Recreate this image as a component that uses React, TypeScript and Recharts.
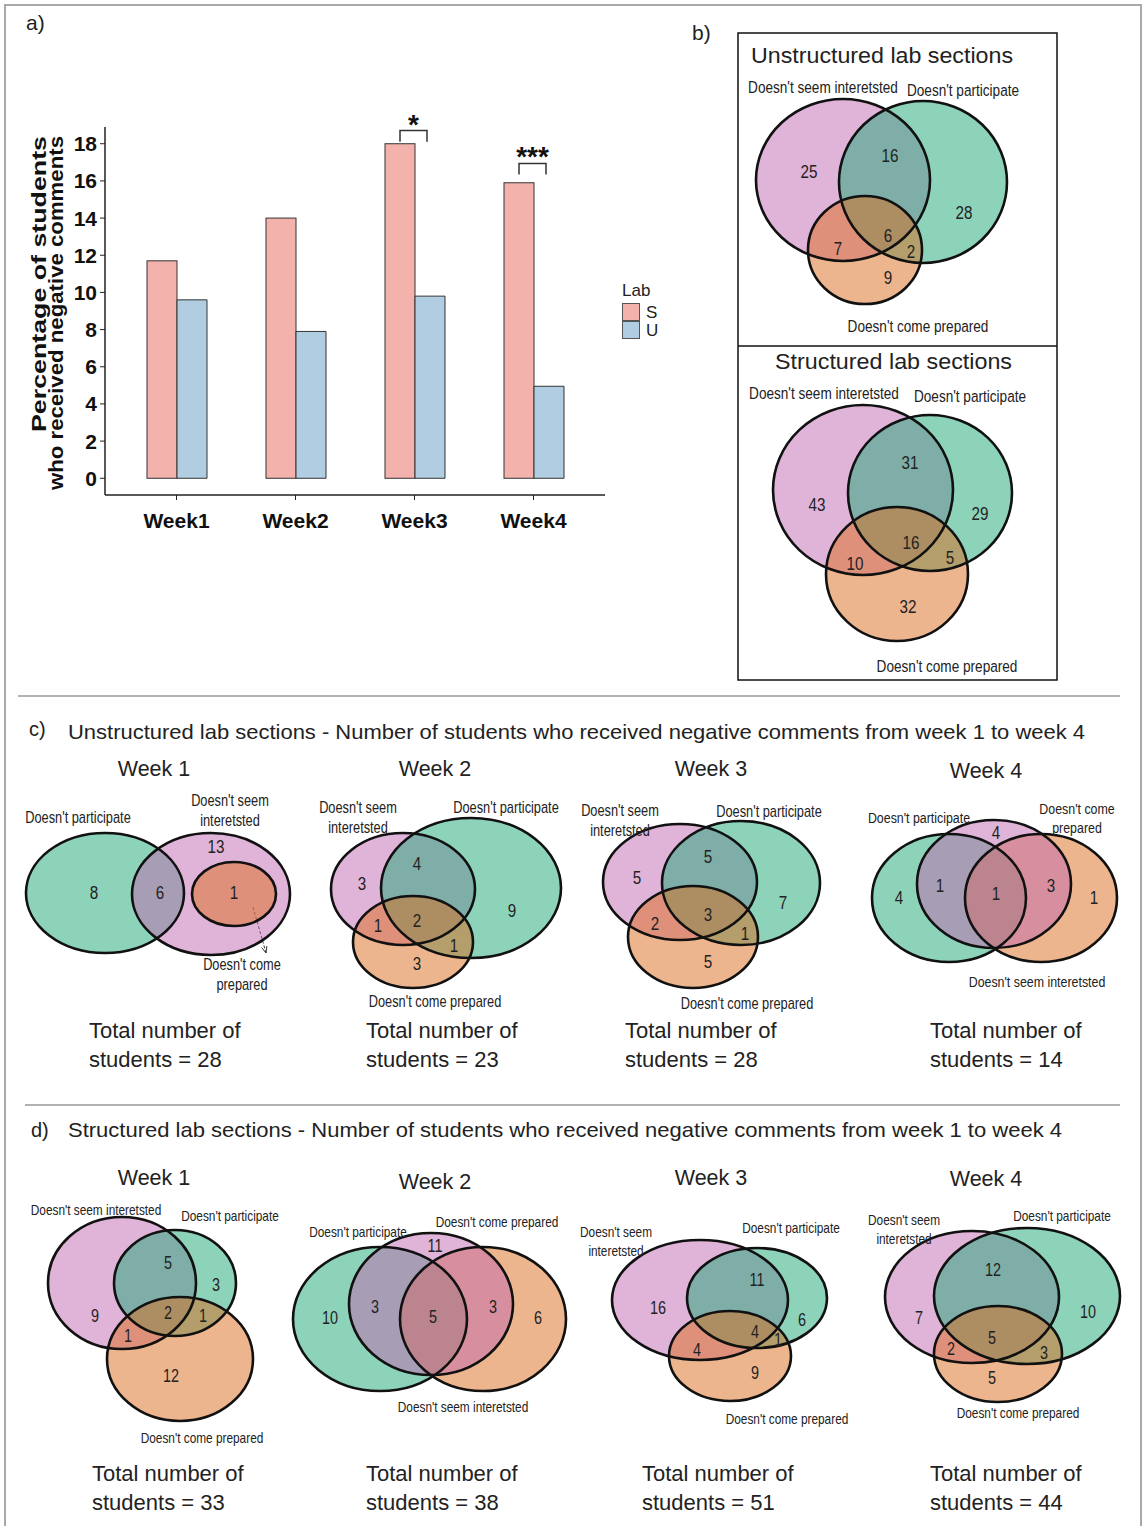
import React from "react";
import {
  BarChart,
  Bar,
  XAxis,
  YAxis,
  ScatterChart,
  Scatter,
  ReferenceLine,
} from "recharts";

const SANS = "'Liberation Sans', Arial, sans-serif";
const NARROW_X = 0.8; // Arial Narrow look: Liberation Sans squeezed sideways

// ---- panel a data ----
const weeks = ["Week1", "Week2", "Week3", "Week4"];
const structuredPct = [11.7, 14.0, 18.0, 15.9];
const unstructuredPct = [9.6, 7.9, 9.8, 4.95];
const sigMarks = ["", "", "*", "***"];
const sigTop = [0, 0, 18.71, 16.94];
const sigLeg = [0, 0, 18.1, 16.35];
const yTicks = [0, 2, 4, 6, 8, 10, 12, 14, 16, 18];
const labKeys = ["S", "U"];

const S_COLOR = "#F4B2AC";
const U_COLOR = "#B1CDE1";

// ---- venn counts ----
const unstructuredAll = [25, 16, 28, 7, 6, 2, 9];
const structuredAll = [43, 31, 29, 16, 10, 5, 32];
const uWeek1 = [8, 6, 13, 1];
const uWeek2 = [3, 4, 9, 1, 2, 1, 3];
const uWeek3 = [5, 5, 7, 2, 3, 1, 5];
const uWeek4 = [4, 1, 4, 1, 3, 1];
const sWeek1 = [9, 5, 3, 2, 1, 1, 12];
const sWeek2 = [10, 3, 11, 5, 3, 6];
const sWeek3 = [16, 11, 6, 4, 1, 4, 9];
const sWeek4 = [7, 12, 10, 5, 2, 3, 5];

const weekNames = ["Week 1", "Week 2", "Week 3", "Week 4"];
const unstructuredTotals = [28, 23, 28, 14];
const structuredTotals = [33, 38, 51, 44];

const PINK = "#C169B1";
const GREEN = "#1BA775";
const ORANGE = "#DB6B1D";

const INT = "Doesn't seem interetsted";
const PART = "Doesn't participate";
const PREP = "Doesn't come prepared";

type Ell = { x: number; y: number; rx: number; ry: number; c: string };
type Txt = { x: number; y: number; t: string[] };
interface VennDef {
  box: [number, number, number, number];
  sets: Ell[];
  counts: number[];
  countAt: [number, number][];
  labels: Txt[];
  labelSize: number;
  countSize: number;
  arrow?: [number, number, number, number];
}

const venns: VennDef[] = [
  {
    box: [740, 66, 315, 275],
    sets: [
      { x: 843, y: 180, rx: 87, ry: 81, c: PINK },
      { x: 923, y: 182, rx: 84, ry: 81, c: GREEN },
      { x: 865, y: 250, rx: 57, ry: 54, c: ORANGE },
    ],
    counts: unstructuredAll,
    countAt: [[809, 171], [890, 155], [964, 212], [838, 248], [888, 235], [911, 251], [888, 277]],
    labels: [
      { x: 823, y: 87, t: [INT] },
      { x: 963, y: 90, t: [PART] },
      { x: 918, y: 326, t: [PREP] },
    ],
    labelSize: 17,
    countSize: 19,
  },
  {
    box: [740, 378, 315, 300],
    sets: [
      { x: 863, y: 490, rx: 90, ry: 85, c: PINK },
      { x: 930, y: 493, rx: 82, ry: 78, c: GREEN },
      { x: 897, y: 574, rx: 71, ry: 67, c: ORANGE },
    ],
    counts: structuredAll,
    countAt: [[817, 504], [910, 462], [980, 513], [911, 542], [855, 563], [950, 557], [908, 606]],
    labels: [
      { x: 824, y: 393, t: [INT] },
      { x: 970, y: 396, t: [PART] },
      { x: 947, y: 666, t: [PREP] },
    ],
    labelSize: 17,
    countSize: 19,
  },
  {
    box: [15, 790, 285, 205],
    sets: [
      { x: 105, y: 893, rx: 79, ry: 60, c: GREEN },
      { x: 211, y: 894, rx: 79, ry: 61, c: PINK },
      { x: 234, y: 894, rx: 42, ry: 32, c: ORANGE },
    ],
    counts: uWeek1,
    countAt: [[94, 892], [160, 892], [216, 846], [234, 892]],
    labels: [
      { x: 78, y: 817, t: [PART] },
      { x: 230, y: 800, t: ["Doesn't seem", "interetsted"] },
      { x: 242, y: 964, t: ["Doesn't come", "prepared"] },
    ],
    labelSize: 16,
    countSize: 19,
    arrow: [253, 907, 266, 953],
  },
  {
    box: [300, 788, 270, 225],
    sets: [
      { x: 403, y: 889, rx: 72, ry: 56, c: PINK },
      { x: 471, y: 888, rx: 90, ry: 70, c: GREEN },
      { x: 413, y: 942, rx: 60, ry: 46, c: ORANGE },
    ],
    counts: uWeek2,
    countAt: [[362, 883], [417, 863], [512, 910], [378, 925], [417, 920], [454, 945], [417, 963]],
    labels: [
      { x: 358, y: 807, t: ["Doesn't seem", "interetsted"] },
      { x: 506, y: 807, t: [PART] },
      { x: 435, y: 1001, t: [PREP] },
    ],
    labelSize: 16,
    countSize: 19,
  },
  {
    box: [575, 795, 265, 220],
    sets: [
      { x: 680, y: 882, rx: 77, ry: 58, c: PINK },
      { x: 741, y: 883, rx: 79, ry: 62, c: GREEN },
      { x: 693, y: 937, rx: 65, ry: 51, c: ORANGE },
    ],
    counts: uWeek3,
    countAt: [[637, 877], [708, 856], [783, 902], [655, 923], [708, 914], [745, 933], [708, 961]],
    labels: [
      { x: 620, y: 810, t: ["Doesn't seem", "interetsted"] },
      { x: 769, y: 811, t: [PART] },
      { x: 747, y: 1003, t: [PREP] },
    ],
    labelSize: 16,
    countSize: 19,
  },
  {
    box: [855, 795, 285, 200],
    sets: [
      { x: 949, y: 898, rx: 77, ry: 64, c: GREEN },
      { x: 1041, y: 898, rx: 76, ry: 64, c: ORANGE },
      { x: 994, y: 884, rx: 77, ry: 64, c: PINK },
    ],
    counts: uWeek4,
    countAt: [[899, 897], [940, 885], [996, 832], [996, 893], [1051, 885], [1094, 897]],
    labels: [
      { x: 919, y: 817, t: [PART] },
      { x: 1077, y: 808, t: ["Doesn't come", "prepared"] },
      { x: 1037, y: 981, t: [INT] },
    ],
    labelSize: 15.5,
    countSize: 19,
  },
  {
    box: [15, 1195, 285, 255],
    sets: [
      { x: 122, y: 1283, rx: 74, ry: 66, c: PINK },
      { x: 175, y: 1283, rx: 61, ry: 53, c: GREEN },
      { x: 180, y: 1359, rx: 73, ry: 62, c: ORANGE },
    ],
    counts: sWeek1,
    countAt: [[95, 1316], [168, 1263], [216, 1285], [168, 1313], [203, 1316], [128, 1336], [171, 1376]],
    labels: [
      { x: 96, y: 1210, t: [INT] },
      { x: 230, y: 1216, t: [PART] },
      { x: 202, y: 1438, t: [PREP] },
    ],
    labelSize: 14.8,
    countSize: 18,
  },
  {
    box: [285, 1205, 290, 215],
    sets: [
      { x: 380, y: 1319, rx: 87, ry: 72, c: GREEN },
      { x: 483, y: 1319, rx: 83, ry: 72, c: ORANGE },
      { x: 431, y: 1304, rx: 82, ry: 71, c: PINK },
    ],
    counts: sWeek2,
    countAt: [[330, 1318], [375, 1307], [435, 1246], [433, 1317], [493, 1307], [538, 1318]],
    labels: [
      { x: 358, y: 1232, t: [PART] },
      { x: 497, y: 1222, t: [PREP] },
      { x: 463, y: 1407, t: [INT] },
    ],
    labelSize: 14.8,
    countSize: 18,
  },
  {
    box: [570, 1215, 300, 215],
    sets: [
      { x: 700, y: 1300, rx: 88, ry: 60, c: PINK },
      { x: 757, y: 1298, rx: 70, ry: 50, c: GREEN },
      { x: 730, y: 1356, rx: 61, ry: 45, c: ORANGE },
    ],
    counts: sWeek3,
    countAt: [[658, 1308], [757, 1280], [802, 1320], [755, 1332], [778, 1340], [697, 1350], [755, 1373]],
    labels: [
      { x: 616, y: 1232, t: ["Doesn't seem", "interetsted"] },
      { x: 791, y: 1228, t: [PART] },
      { x: 787, y: 1419, t: [PREP] },
    ],
    labelSize: 14.8,
    countSize: 18,
  },
  {
    box: [855, 1205, 285, 220],
    sets: [
      { x: 972, y: 1297, rx: 87, ry: 66, c: PINK },
      { x: 1027, y: 1296, rx: 93, ry: 68, c: GREEN },
      { x: 998, y: 1354, rx: 64, ry: 48, c: ORANGE },
    ],
    counts: sWeek4,
    countAt: [[919, 1318], [993, 1270], [1088, 1312], [992, 1338], [951, 1349], [1044, 1353], [992, 1378]],
    labels: [
      { x: 904, y: 1220, t: ["Doesn't seem", "interetsted"] },
      { x: 1062, y: 1216, t: [PART] },
      { x: 1018, y: 1413, t: [PREP] },
    ],
    labelSize: 14.8,
    countSize: 18,
  },
];

const weekTitleAt = [
  [154, 768], [435, 768], [711, 768], [986, 770],
  [154, 1177], [435, 1181], [711, 1177], [986, 1178],
];
const totalAt = [
  [89, 1030], [366, 1030], [625, 1030], [930, 1030],
  [92, 1473], [366, 1473], [642, 1473], [930, 1473],
];

function Venn({ def }: { def: VennDef }) {
  const [left, top, w, h] = def.box;
  const countData = def.counts.map((n, i) => ({ x: def.countAt[i][0], y: def.countAt[i][1], n }));
  const labelData = def.labels.map((l) => ({ x: l.x, y: l.y, t: l.t }));
  const arrowShape = (p: any) => {
    const { x1, y1, x2, y2 } = p;
    const a = Math.atan2(y2 - y1, x2 - x1);
    const s = 7;
    const pA = [x2 - s * Math.cos(a - 0.4), y2 - s * Math.sin(a - 0.4)];
    const pB = [x2 - s * Math.cos(a + 0.4), y2 - s * Math.sin(a + 0.4)];
    return (
      <g>
        <line x1={x1} y1={y1} x2={x2} y2={y2} stroke="#333" strokeWidth={1} strokeDasharray="3 2" />
        <path d={`M${pA[0]},${pA[1]} L${x2},${y2} L${pB[0]},${pB[1]}`} fill="none" stroke="#333" strokeWidth={1} />
      </g>
    );
  };
  return (
    <div style={{ position: "absolute", left, top, width: w, height: h }}>
      <ScatterChart width={w} height={h} margin={{ top: 0, right: 0, bottom: 0, left: 0 }}>
        <XAxis type="number" dataKey="x" domain={[left, left + w]} hide />
        <YAxis type="number" dataKey="y" domain={[top, top + h]} reversed hide />
        <Scatter
          data={def.sets}
          isAnimationActive={false}
          shape={(p: any) => (
            <ellipse cx={p.cx} cy={p.cy} rx={p.payload.rx} ry={p.payload.ry} fill={p.payload.c} fillOpacity={0.5} />
          )}
        />
        <Scatter
          data={def.sets}
          isAnimationActive={false}
          shape={(p: any) => (
            <ellipse cx={p.cx} cy={p.cy} rx={p.payload.rx} ry={p.payload.ry} fill="none" stroke="#111" strokeWidth={2.6} />
          )}
        />
        <Scatter
          data={countData}
          isAnimationActive={false}
          shape={(p: any) => (
            <text
              transform={`translate(${p.cx} ${p.cy}) scale(${NARROW_X} 1)`}
              dy="0.36em"
              textAnchor="middle"
              fontFamily={SANS}
              fontSize={def.countSize}
              fill="#222"
            >
              {p.payload.n}
            </text>
          )}
        />
        <Scatter
          data={labelData}
          isAnimationActive={false}
          shape={(p: any) => (
            <text
              transform={`translate(${p.cx} ${p.cy}) scale(${NARROW_X} 1)`}
              textAnchor="middle"
              fontFamily={SANS}
              fontSize={def.labelSize}
              fill="#222"
            >
              {p.payload.t.map((line: string, i: number) => (
                <tspan key={i} x={0} dy={i === 0 ? "0.36em" : "1.25em"}>
                  {line}
                </tspan>
              ))}
            </text>
          )}
        />
        {def.arrow && (
          <ReferenceLine
            segment={[
              { x: def.arrow[0], y: def.arrow[1] },
              { x: def.arrow[2], y: def.arrow[3] },
            ]}
            shape={arrowShape}
          />
        )}
      </ScatterChart>
    </div>
  );
}

const barRows = weeks.map((week, i) => ({
  week,
  S: structuredPct[i],
  U: unstructuredPct[i],
  sig: sigMarks[i],
  sigTop: sigTop[i],
  sigLeg: sigLeg[i],
}));

const SBar = (p: any) => {
  const { x, y, width, height, payload } = p;
  const pxPer = height / payload.S;
  const x1 = x + width / 2;
  const x2 = x + width * 1.4;
  const top = y - (payload.sigTop - payload.S) * pxPer;
  const leg = y - (payload.sigLeg - payload.S) * pxPer;
  return (
    <g>
      <rect x={x} y={y} width={width} height={height} fill={S_COLOR} stroke="#333" strokeWidth={1} />
      {payload.sig && (
        <g>
          <path d={`M${x1},${leg} V${top} H${x2} V${leg}`} fill="none" stroke="#333" strokeWidth={1.5} />
          <text x={(x1 + x2) / 2} y={top + 3} textAnchor="middle" fontFamily={SANS} fontWeight={700} fontSize={28} fill="#111">
            {payload.sig}
          </text>
        </g>
      )}
    </g>
  );
};

export default function App() {
  return (
    <div style={{ position: "relative", width: 1146, height: 1526, background: "#fff", fontFamily: SANS, overflow: "hidden" }}>
      <style>{"body{margin:0}"}</style>
      <div style={{ position: "absolute", left: 0, top: 100 }}>
        <BarChart
          width={680}
          height={460}
          data={barRows}
          margin={{ top: 27, right: 75, bottom: 25, left: 65 }}
          barGap={0}
          barSize={30}
        >
          <XAxis
            dataKey="week"
            padding={{ left: 12, right: 12 }}
            axisLine={{ stroke: "#222", strokeWidth: 1.5 }}
            tickLine={{ stroke: "#222" }}
            tickSize={5}
            tickMargin={13}
            height={40}
            tick={{ fill: "#111", fontSize: 21, fontWeight: 700, fontFamily: SANS }}
          />
          <YAxis
            type="number"
            domain={[-0.9, 18.9]}
            ticks={yTicks}
            width={40}
            axisLine={{ stroke: "#222", strokeWidth: 1.5 }}
            tickLine={{ stroke: "#222" }}
            tickSize={5}
            tickMargin={3}
            tick={{ fill: "#111", fontSize: 21, fontWeight: 700, fontFamily: SANS }}
          />
          <Bar dataKey="S" fill={S_COLOR} isAnimationActive={false} shape={SBar} />
          <Bar dataKey="U" fill={U_COLOR} stroke="#333" strokeWidth={1} isAnimationActive={false} />
        </BarChart>
      </div>

      {venns.map((v, i) => (
        <Venn key={i} def={v} />
      ))}

      <svg width={1146} height={1526} style={{ position: "absolute", left: 0, top: 0, pointerEvents: "none" }}>
        <rect x={5} y={5} width={1136} height={1530} fill="none" stroke="#a8a8a8" strokeWidth={2} />
        <line x1={18} y1={696} x2={1120} y2={696} stroke="#666" strokeWidth={1.2} />
        <line x1={25} y1={1105} x2={1120} y2={1105} stroke="#666" strokeWidth={1.2} />
        <rect x={738} y={33} width={319} height={647} fill="none" stroke="#111" strokeWidth={1.5} />
        <line x1={738} y1={346} x2={1057} y2={346} stroke="#111" strokeWidth={1.5} />

        <text x={26} y={30} fontSize={21} fill="#222">a)</text>
        <text x={692} y={40} fontSize={21} fill="#222">b)</text>

        <text transform="translate(46,432) rotate(-90)" fontSize={21} fontWeight={700} fill="#111" textLength={296} lengthAdjust="spacingAndGlyphs">
          Percentage of students
        </text>
        <text transform="translate(63,490) rotate(-90)" fontSize={21} fontWeight={700} fill="#111" textLength={354} lengthAdjust="spacingAndGlyphs">
          who received negative comments
        </text>

        {/* legend for panel a */}
        <text x={622} y={296} fontSize={17} fill="#222">Lab</text>
        {labKeys.map((k, i) => (
          <g key={k}>
            <rect x={622.5} y={303.5 + i * 18} width={17} height={17} fill={i === 0 ? S_COLOR : U_COLOR} stroke="#555" />
            <text x={646} y={318 + i * 18} fontSize={17} fill="#222">{k}</text>
          </g>
        ))}

        <text x={751} y={63} fontSize={22} fill="#222" textLength={262} lengthAdjust="spacingAndGlyphs">
          Unstructured lab sections
        </text>
        <text x={775} y={369} fontSize={22} fill="#222" textLength={237} lengthAdjust="spacingAndGlyphs">
          Structured lab sections
        </text>

        <text x={29} y={736} fontSize={20} fill="#222">c)</text>
        <text x={68} y={739} fontSize={21} fill="#222" textLength={1017} lengthAdjust="spacingAndGlyphs">
          Unstructured lab sections - Number of students who received negative comments from week 1 to week 4
        </text>
        <text x={31} y={1137} fontSize={20} fill="#222">d)</text>
        <text x={68} y={1137} fontSize={21} fill="#222" textLength={994} lengthAdjust="spacingAndGlyphs">
          Structured lab sections - Number of students who received negative comments from week 1 to week 4
        </text>

        {weekTitleAt.map(([x, y], i) => (
          <text key={"w" + i} x={x} y={y} dy="0.36em" textAnchor="middle" fontSize={21.5} fill="#222">
            {weekNames[i % 4]}
          </text>
        ))}
        {totalAt.map(([x, y], i) => {
          const total = i < 4 ? unstructuredTotals[i] : structuredTotals[i - 4];
          return (
            <text key={"t" + i} x={x} y={y} dy="0.36em" fontSize={22} fill="#222">
              <tspan x={x}>Total number of</tspan>
              <tspan x={x} dy="1.32em">{`students = ${total}`}</tspan>
            </text>
          );
        })}
      </svg>
    </div>
  );
}
